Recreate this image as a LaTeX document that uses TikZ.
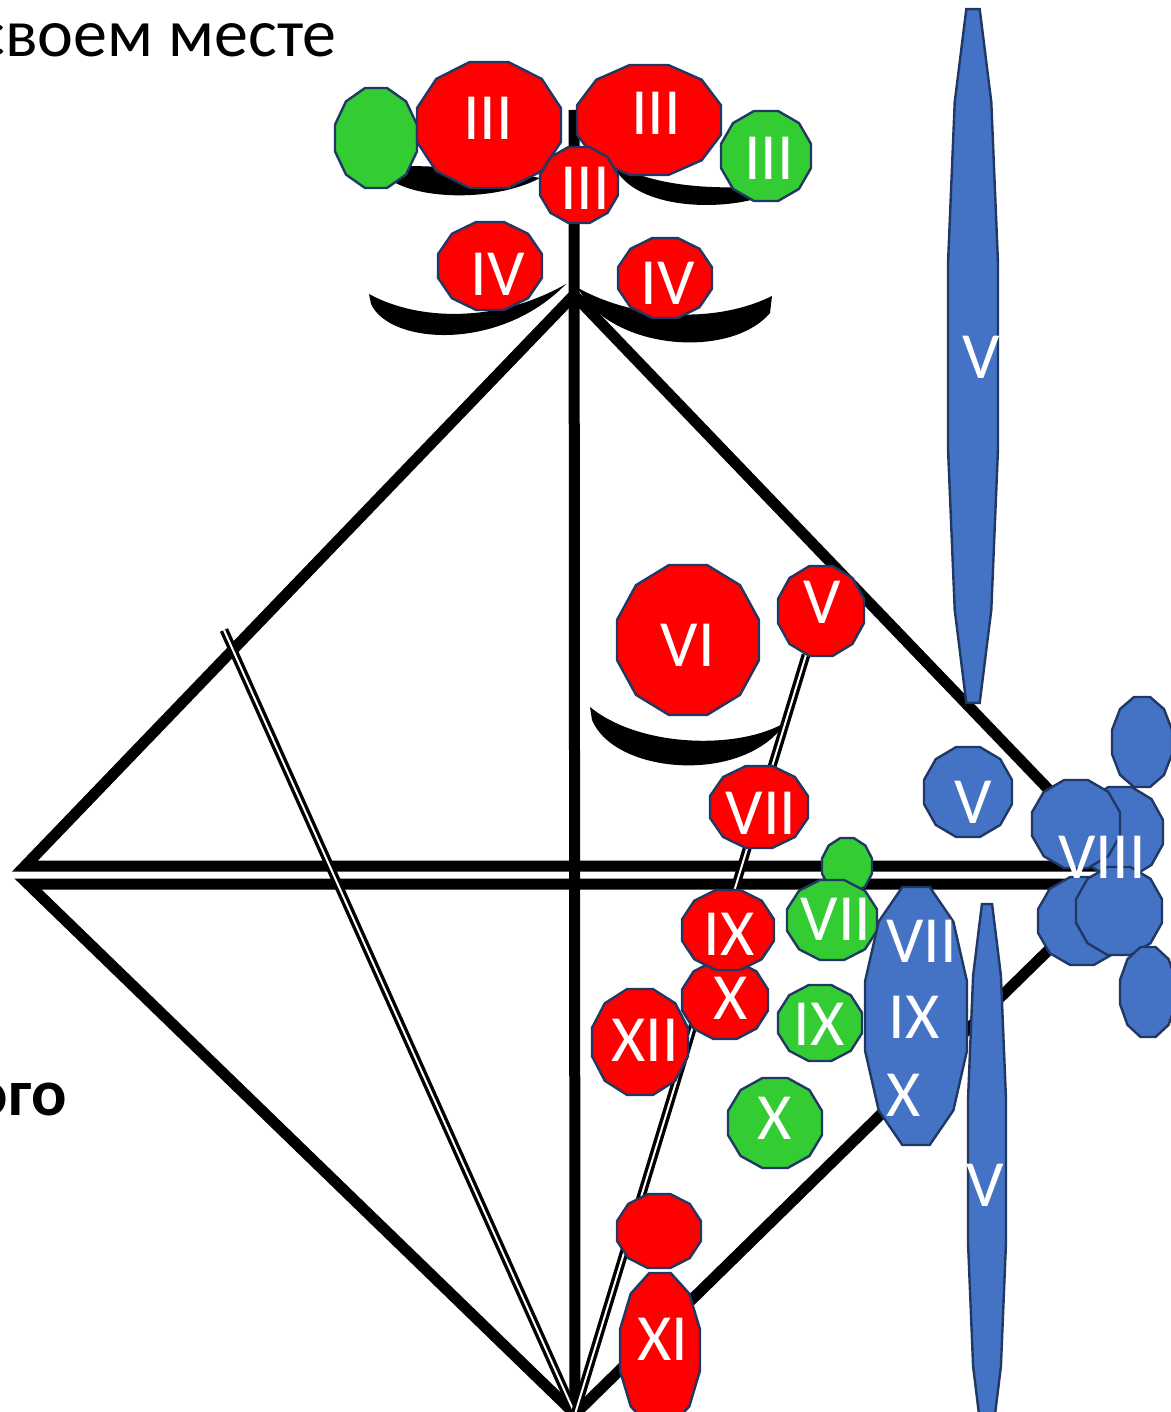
\documentclass[tikz,border=0pt]{standalone}
\usepackage{fontspec}
\setmainfont{Carlito}
\usepackage{tikz}
\usetikzlibrary{positioning}

\definecolor{redfill}{HTML}{FF0000}
\definecolor{greenfill}{HTML}{33CC33}
\definecolor{bluefill}{HTML}{4472C4}
\definecolor{rim}{HTML}{203864}

\newcommand{\blob}[5]{%
  \filldraw[fill=#5, draw=rim, line width=1.2pt, line join=miter]
    plot[samples at={15,45,...,345}] ({#1+#3/0.966*cos(\x)}, {#2+#4/0.966*sin(\x)}) -- cycle;
}

\begin{document}
\begin{tikzpicture}[x=0.5pt, y=-0.5pt,
	bar/.style={draw=black, line width=5.5pt, line join=miter},
	rail/.style={draw=black, double=white, line width=1.7pt, double distance=1pt},
	cup/.style={fill=black},
	lbl/.style={text=white, inner sep=0pt, font=\fontsize{33}{33}\selectfont}]
	\useasboundingbox (0,0) rectangle (1171,1412);
	\fill[white] (0,0) rectangle (1171,1412);
	\clip (0,0) rectangle (1171,1412);

	\coordinate (stemtop) at (574,110);
	\coordinate (apex) at (575,1414);
	\coordinate (top) at (574,295);
	\coordinate (westA) at (25,866);
	\coordinate (eastA) at (1122,866);
	\coordinate (westB) at (28,884);
	\coordinate (eastB) at (1116,884);
	\coordinate (railA) at (224,630);
	\coordinate (railB) at (806,655);

	\draw [bar] (top) -- (westA) -- (eastA) -- cycle;
	\draw [bar] (westB) -- (apex) -- (eastB) -- cycle;
	\draw [bar] (stemtop) -- (apex);

	\fill[cup] (378,166) .. controls (392,200) and (490,205) .. (540,178) .. controls (490,168) and (420,165) .. cycle;
	\fill[cup] (612,162) .. controls (630,210) and (720,212) .. (765,196) -- (765,186) .. controls (710,190) and (650,186) .. cycle;
	\fill[cup] (369,294) -- (371,304) .. controls (390,345) and (500,352) .. (566,284) .. controls (500,322) and (420,322) .. cycle;
	\fill[cup] (578,288) .. controls (610,350) and (730,360) .. (770,313) -- (772,296) .. controls (720,322) and (640,322) .. cycle;
	\fill[cup] (590,707) -- (592,720) .. controls (615,775) and (745,785) .. (786,722) .. controls (740,750) and (640,748) .. cycle;

	\draw [rail] (railA) -- (apex);
	\draw [rail] (railB) -- (apex);

	\blob{376}{138}{41}{50}{greenfill}
	\blob{489}{125}{72}{63}{redfill}
	\blob{649}{120}{72}{55}{redfill}
	\blob{579}{185}{39}{38}{redfill}
	\blob{766}{156}{45}{45}{greenfill}
	\blob{490}{266}{52}{44}{redfill}
	\blob{665}{278}{47}{40}{redfill}

	\blob{688}{640}{71}{75}{redfill}
	\blob{821}{611}{43}{45}{redfill}
	\blob{759}{807}{49}{41}{redfill}
	\blob{847}{866}{25}{28}{greenfill}
	\blob{832}{920}{45}{40}{greenfill}
	\blob{725}{1000}{43}{39}{redfill}
	\blob{728}{930}{46}{40}{redfill}
	\blob{640}{1042}{48}{53}{redfill}
	\blob{820}{1023}{42}{38}{greenfill}
	\blob{775}{1123}{47}{45}{greenfill}
	\blob{916}{1016}{51}{129}{bluefill}
	\blob{659}{1231}{42}{37}{redfill}
	\blob{660}{1350}{40}{77}{redfill}

	\blob{973}{356}{25}{347}{bluefill}
	\blob{987}{1171}{19}{267}{bluefill}
	\blob{968}{792}{44}{45}{bluefill}
	\blob{1142}{742}{30}{45}{bluefill}
	\blob{1120}{832}{43}{45}{bluefill}
	\blob{1076}{824}{44}{44}{bluefill}
	\blob{1082}{921}{44}{44}{bluefill}
	\blob{1119}{911}{43}{44}{bluefill}
	\blob{1148}{992}{28}{45}{bluefill}

	\node[lbl] (iiiL) at (488,118) {III};
	\node[lbl] (iiiR) at (656,113) {III};
	\node[lbl] (iiiM) at (585,188) {III};
	\node[lbl] (iiiG) at (769,158) {III};
	\node[lbl] (ivL) at (498,274) {IV};
	\node[lbl] (ivR) at (668,283) {IV};
	\node[lbl] (vi) at (688,645) {VI};
	\node[lbl] (vR) at (822,602) {V};
	\node[lbl] (viiR) at (761,813) {VII};
	\node[lbl] (viiG) at (836,919) {VII};
	\node[lbl] (ixR) at (729,934) {IX};
	\node[lbl] (xR) at (731,998) {X};
	\node[lbl] (xii) at (645,1040) {XII};
	\node[lbl] (ixG) at (819,1024) {IX};
	\node[lbl] (xG) at (775,1118) {X};
	\node[lbl, anchor=west] (viiB) at (886,941) {VII};
	\node[lbl, anchor=west] (ixB) at (888,1017) {IX};
	\node[lbl, anchor=west] (xB) at (886,1095) {X};
	\node[lbl] (xi) at (663,1339) {XI};
	\node[lbl] (vTop) at (981,357) {V};
	\node[lbl] (vMid) at (973,802) {V};
	\node[lbl] (vLow) at (985,1185) {V};
	\node[lbl] (viii) at (1102,857) {VIII};

	\node[anchor=base east, inner sep=0pt, font=\fontsize{34}{34}\selectfont] (title) at (337,57) {своем месте};
	\node[anchor=base east, inner sep=0pt, font=\bfseries\fontsize{33}{33}\selectfont] (tail) at (67,1115) {ого};
\end{tikzpicture}
\end{document}
